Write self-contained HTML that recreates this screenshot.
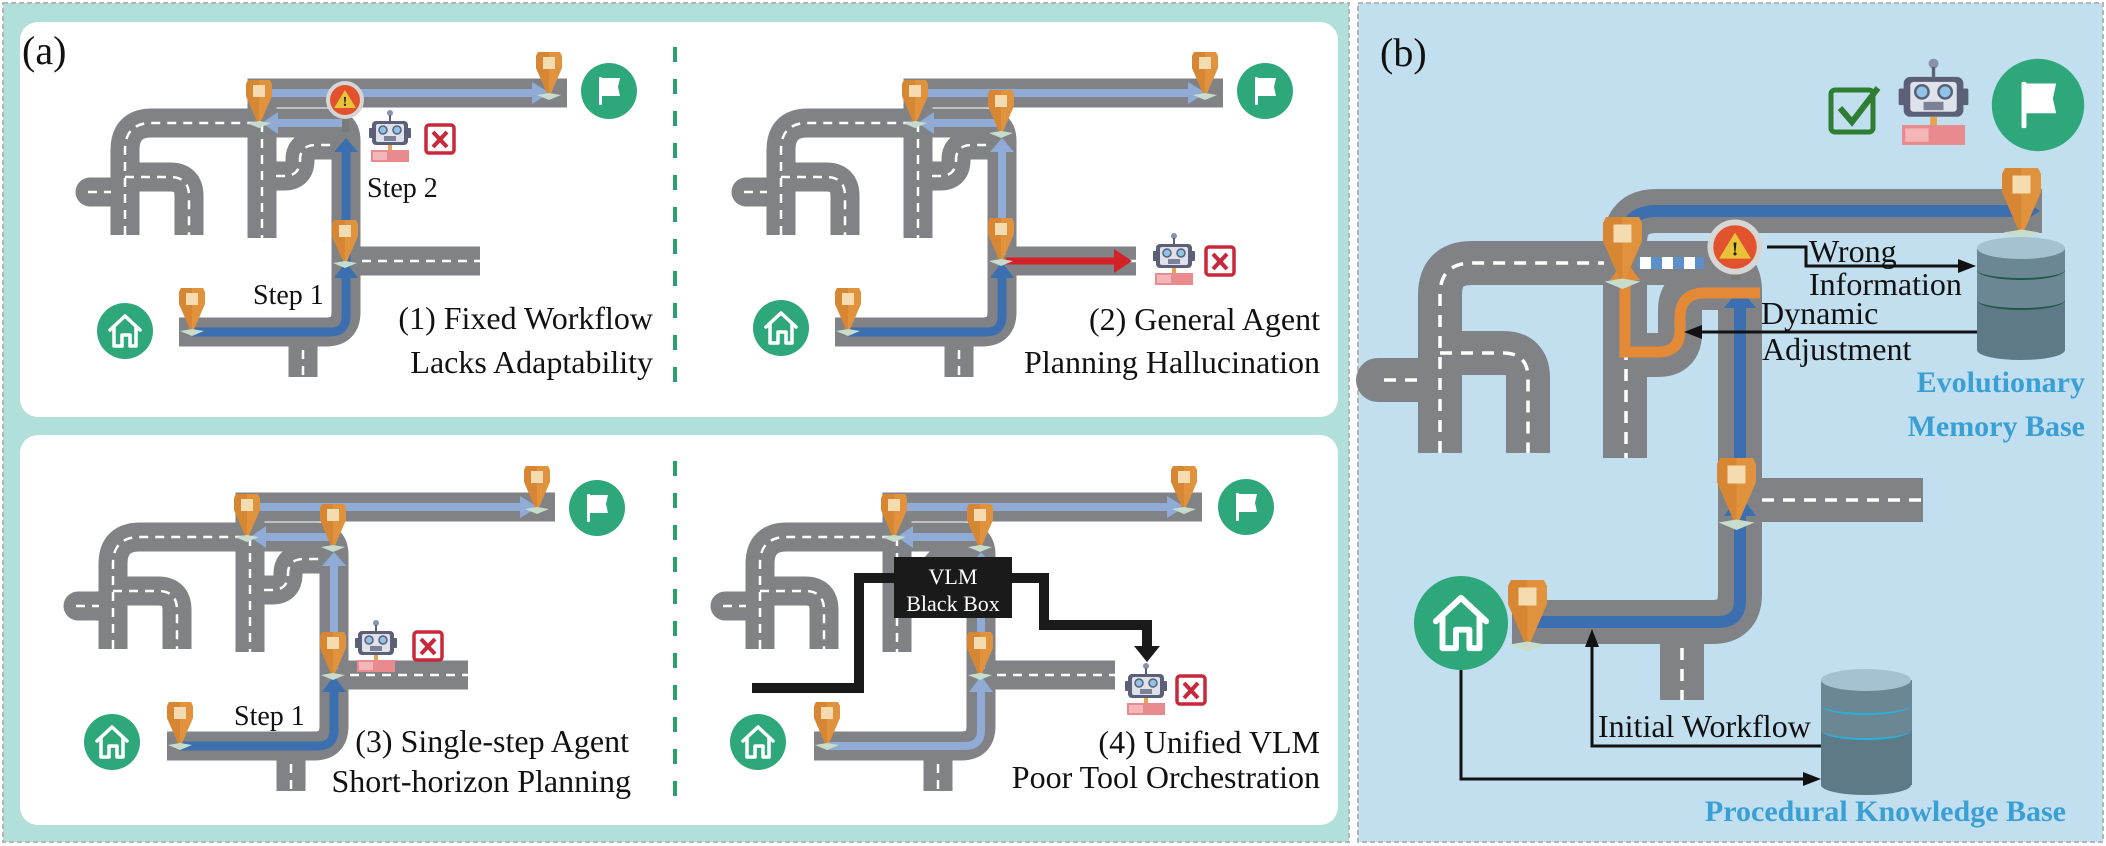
<!DOCTYPE html>
<html><head><meta charset="utf-8"><style>
html,body{margin:0;padding:0;background:#fff;}
svg{display:block;}
svg text{font-family:"Liberation Serif","DejaVu Serif","Times New Roman",Times,serif;}
</style></head><body>
<svg width="2106" height="846" viewBox="0 0 2106 846" xmlns="http://www.w3.org/2000/svg">
<defs>
  <g id="pin">
    <path d="M2 0 H24 L26 4 V16 L13 46 L0 16 V4 Z" fill="#e0933c"/>
    <path d="M13 0 V46 L0 16 V4 L2 0Z" fill="#cf7d2c" opacity=".55"/>
    <rect x="7" y="5" width="12" height="12" fill="#f5dcb0"/>
    <path d="M1 43 L13 41 L25 43 L13 48Z" fill="#c8dccb"/>
  </g>
  <g id="robot">
    <circle cx="22" cy="4" r="3" fill="#8a8fb0"/>
    <rect x="21" y="6" width="2" height="6" fill="#5b6078"/>
    <rect x="1" y="19" width="4" height="10" rx="1" fill="#5b6078"/>
    <rect x="39" y="19" width="4" height="10" rx="1" fill="#5b6078"/>
    <rect x="4" y="12" width="36" height="24" rx="4" fill="#5b6078"/>
    <rect x="8" y="15" width="28" height="18" rx="2" fill="#dfe2ea"/>
    <circle cx="15" cy="21" r="4" fill="#8fc3e8" stroke="#5b6078" stroke-width="1.5"/>
    <circle cx="29" cy="21" r="4" fill="#8fc3e8" stroke="#5b6078" stroke-width="1.5"/>
    <rect x="16" y="27" width="12" height="5" fill="#7c8296"/>
    <rect x="20" y="36" width="4" height="5" fill="#e6a34a"/>
    <rect x="3" y="41" width="38" height="12" fill="#e98a8f"/>
    <rect x="5" y="43" width="14" height="8" fill="#f3b7ba"/>
  </g>
  <g id="xbox">
    <rect x="2" y="2" width="28" height="28" rx="3" fill="#fff" stroke="#c8283a" stroke-width="3.5"/>
    <path d="M9 9 L23 24 M23 9 L9 24" stroke="#c8283a" stroke-width="4"/>
  </g>
  <g id="flag">
    <circle cx="0" cy="0" r="28" fill="#2ea87a"/>
    <rect x="-10" y="-14" width="3" height="28" fill="#fff" rx="1"/>
    <path d="M-7 -13 H11 L9 -4 L11 5 H-7Z" fill="#fff"/>
  </g>
  <g id="home">
    <circle cx="0" cy="0" r="28" fill="#2ea87a"/>
    <path d="M-15 -1 L0 -15 L15 -1 M-11 -4 V15 H-3 V4 H5 V15 H11 V-4" fill="none" stroke="#fff" stroke-width="3.5" stroke-linejoin="round" stroke-linecap="round"/>
  </g>
  <g id="warn">
    <circle cx="0" cy="0" r="19" fill="#d6d6d6"/>
    <circle cx="0" cy="0" r="15" fill="#e2522c"/>
    <path d="M0 -10 L11 8 H-11Z" fill="#e9c23a"/>
    <text x="0" y="6" font-size="14" font-weight="bold" text-anchor="middle" fill="#222">!</text>
  </g>
  <g id="net">
    <g fill="none" stroke="#808285" stroke-width="29">
      <path d="M262 238 V93 H567"/>
      <path d="M125 235 V150 Q125 123 152 123 H328 Q346 123 346 141 V312 Q346 332 326 332 H179"/>
      <path d="M125 177 H170 Q189 177 189 196 V235"/>
      <path d="M90 192 H125" stroke-linecap="round"/>
      <path d="M262 176 H284 Q300 176 300 160 Q300 145 316 145 H346"/>
      <path d="M346 261 H480"/>
      <path d="M303 332 V377"/>
    </g>
    <g fill="none" stroke="#fff" stroke-width="2.5" stroke-dasharray="9 7">
      <path d="M125 235 V150 Q125 123 152 123 H262"/>
      <path d="M262 123 V238"/>
      <path d="M125 177 H170 Q189 177 189 196 V235"/>
      <path d="M88 192 H111"/>
      <path d="M276 176 H284 Q300 176 300 160 Q300 145 316 145 H332"/>
      <path d="M362 261 H480"/>
      <path d="M303 350 V377"/>
    </g>
  </g>
</defs>

<rect x="3" y="3" width="1346" height="839" fill="#b1dfd9" stroke="#b5b5b5" stroke-width="2" stroke-dasharray="5 3"/>
<rect x="20" y="22" width="1318" height="395" rx="18" fill="#fff"/>
<rect x="20" y="435" width="1318" height="390" rx="18" fill="#fff"/>
<line x1="675" y1="47" x2="675" y2="397" stroke="#2aa06e" stroke-width="4" stroke-dasharray="15 17"/>
<line x1="675" y1="461" x2="675" y2="812" stroke="#2aa06e" stroke-width="4" stroke-dasharray="15 17"/>
<text x="22" y="64" font-size="40" fill="#111">(a)</text>

<rect x="1358" y="3" width="745" height="839" fill="#c1dfef" stroke="#b5b5b5" stroke-width="2" stroke-dasharray="5 3"/>

<g>
  <use href="#net"/>
  <g stroke="#8fabd6" stroke-width="8" fill="none">
    <path d="M268 93 H536"/>
    <path d="M346 123 H276"/>
  </g>
  <path d="M532 82 L550 93 L532 104Z" fill="#8fabd6"/>
  <path d="M262 123 L278 112 L278 134Z" fill="#8fabd6"/>
  <path d="M192 332 H330 Q346 332 346 316 V150" stroke="#3c6fb0" stroke-width="9" fill="none"/>
  <path d="M346 262 L334 278 H358Z" fill="#3c6fb0"/>
  <path d="M346 138 L334 152 H358Z" fill="#3c6fb0"/>
  <rect x="342" y="110" width="7" height="22" fill="#7a7a7a"/>
  <use href="#warn" x="345" y="100"/>
  <use href="#pin" x="246" y="80"/>
  <use href="#pin" x="536" y="52"/>
  <use href="#pin" x="332" y="220"/>
  <use href="#pin" x="179" y="288"/>
  <use href="#flag" x="609" y="91"/>
  <use href="#home" x="125" y="331"/>
  <use href="#robot" x="368" y="109"/>
  <use href="#xbox" x="424" y="123"/>
  <text x="367" y="197" font-size="28" fill="#111">Step 2</text>
  <text x="253" y="304" font-size="28" fill="#111">Step 1</text>
  <text x="653" y="329" font-size="32" text-anchor="end" fill="#111">(1) Fixed Workflow</text>
  <text x="653" y="373" font-size="32" text-anchor="end" fill="#111">Lacks Adaptability</text>
</g>

<g transform="translate(656,0)">
  <use href="#net"/>
  <g stroke="#8fabd6" stroke-width="8" fill="none">
    <path d="M268 93 H536"/>
    <path d="M346 123 H276"/>
    <path d="M346 255 V150"/>
  </g>
  <path d="M532 82 L550 93 L532 104Z" fill="#8fabd6"/>
  <path d="M262 123 L278 112 L278 134Z" fill="#8fabd6"/>
  <path d="M346 138 L334 152 H358Z" fill="#8fabd6"/>
  <path d="M192 332 H330 Q346 332 346 316 V276" stroke="#3c6fb0" stroke-width="9" fill="none"/>
  <path d="M346 262 L334 278 H358Z" fill="#3c6fb0"/>
  <path d="M350 261 H462" stroke="#d42027" stroke-width="7"/>
  <path d="M458 249 L476 261 L458 273Z" fill="#d42027"/>
  <use href="#pin" x="246" y="80"/>
  <use href="#pin" x="536" y="52"/>
  <use href="#pin" x="332" y="90"/>
  <use href="#pin" x="332" y="218"/>
  <use href="#pin" x="179" y="288"/>
  <use href="#flag" x="609" y="91"/>
  <use href="#home" x="125" y="328"/>
  <use href="#robot" x="496" y="232"/>
  <use href="#xbox" x="548" y="245"/>
  <text x="664" y="330" font-size="32" text-anchor="end" fill="#111">(2) General Agent</text>
  <text x="664" y="373" font-size="32" text-anchor="end" fill="#111">Planning Hallucination</text>
</g>

<g transform="translate(-12,414)">
  <use href="#net"/>
  <g stroke="#8fabd6" stroke-width="8" fill="none">
    <path d="M268 93 H536"/>
    <path d="M346 123 H276"/>
    <path d="M346 255 V150"/>
  </g>
  <path d="M532 82 L550 93 L532 104Z" fill="#8fabd6"/>
  <path d="M262 123 L278 112 L278 134Z" fill="#8fabd6"/>
  <path d="M346 138 L334 152 H358Z" fill="#8fabd6"/>
  <path d="M192 332 H330 Q346 332 346 316 V276" stroke="#3c6fb0" stroke-width="9" fill="none"/>
  <path d="M346 262 L334 278 H358Z" fill="#3c6fb0"/>
  <use href="#pin" x="246" y="80"/>
  <use href="#pin" x="536" y="52"/>
  <use href="#pin" x="332" y="90"/>
  <use href="#pin" x="332" y="218"/>
  <use href="#pin" x="179" y="288"/>
  <use href="#flag" x="609" y="94"/>
  <use href="#home" x="124" y="328"/>
  <use href="#robot" x="366" y="205"/>
  <use href="#xbox" x="424" y="216"/>
  <text x="246" y="311" font-size="28" fill="#111">Step 1</text>
  <text x="641" y="338" font-size="32" text-anchor="end" fill="#111">(3) Single-step Agent</text>
  <text x="643" y="378" font-size="32" text-anchor="end" fill="#111">Short-horizon Planning</text>
</g>

<g transform="translate(635,414)">
  <use href="#net"/>
  <g stroke="#8fabd6" stroke-width="8" fill="none">
    <path d="M268 93 H536"/>
    <path d="M346 123 H276"/>
    <path d="M346 255 V150"/>
    <path d="M192 332 H330 Q346 332 346 316 V276"/>
  </g>
  <path d="M532 82 L550 93 L532 104Z" fill="#8fabd6"/>
  <path d="M262 123 L278 112 L278 134Z" fill="#8fabd6"/>
  <path d="M346 138 L334 152 H358Z" fill="#8fabd6"/>
  <path d="M346 262 L334 278 H358Z" fill="#8fabd6"/>
  <use href="#pin" x="246" y="80"/>
  <use href="#pin" x="536" y="52"/>
  <use href="#pin" x="332" y="90"/>
  <use href="#pin" x="332" y="218"/>
  <use href="#pin" x="179" y="288"/>
  <use href="#flag" x="611" y="93"/>
  <use href="#home" x="123" y="328"/>
  <use href="#robot" x="489" y="248"/>
  <use href="#xbox" x="540" y="260"/>
  <text x="685" y="339" font-size="32" text-anchor="end" fill="#111">(4) Unified VLM</text>
  <text x="685" y="374" font-size="32" text-anchor="end" fill="#111">Poor Tool Orchestration</text>
</g>
<path d="M752 688 H859 V578 H900" fill="none" stroke="#1a1a1a" stroke-width="10"/>
<path d="M1008 578 H1044 V625 H1147 V648" fill="none" stroke="#1a1a1a" stroke-width="10"/>
<path d="M1134 646 L1160 646 L1147 662Z" fill="#1a1a1a"/>
<rect x="894" y="557" width="118" height="61" fill="#1a1a1a"/>
<text x="953" y="584" font-size="22" text-anchor="middle" fill="#fff">VLM</text>
<text x="953" y="611" font-size="22" text-anchor="middle" fill="#fff">Black Box</text>

<text x="1380" y="66" font-size="40" fill="#111">(b)</text>
<g fill="none" stroke="#808285" stroke-width="44">
  <path d="M1625 458 V243 Q1625 211 1657 211 H2042"/>
  <path d="M1440 453 V295 Q1440 263 1472 263 H1712 Q1740 263 1740 291 V594 Q1740 622 1712 622 H1512"/>
  <path d="M1440 353 H1503 Q1528 353 1528 378 V453"/>
  <path d="M1378 380 H1440" stroke-linecap="round"/>
  <path d="M1625 355 H1658 Q1680 355 1680 333 V310 Q1680 288 1702 288 H1740"/>
  <path d="M1740 500 H1923"/>
  <path d="M1682 622 V700"/>
</g>
<g fill="none" stroke="#fff" stroke-width="3.5" stroke-dasharray="12 9">
  <path d="M1440 453 V295 Q1440 263 1472 263 H1604"/>
  <path d="M1626 285 V458"/>
  <path d="M1440 353 H1503 Q1528 353 1528 378 V453"/>
  <path d="M1384 380 H1418"/>
  <path d="M1762 500 H1923"/>
  <path d="M1682 648 V700"/>
</g>
<rect x="1638" y="257" width="66" height="12" fill="#5d8fc9"/>
<g fill="#fff"><rect x="1640" y="257" width="11" height="12"/><rect x="1662" y="257" width="11" height="12"/><rect x="1684" y="257" width="11" height="12"/></g>
<path d="M1625 260 V240 Q1625 211 1657 211 H2022" fill="none" stroke="#3c6fb0" stroke-width="12"/>
<path d="M2018 197 L2040 211 L2018 225Z" fill="#3c6fb0"/>
<path d="M1528 622 H1718 Q1740 622 1740 600 V300" fill="none" stroke="#3c6fb0" stroke-width="12"/>
<path d="M1740 494 L1724 516 H1756Z" fill="#3c6fb0"/>
<path d="M1740 288 L1724 308 H1756Z" fill="#3c6fb0"/>
<path d="M1760 293 H1705 Q1680 293 1680 318 V330 Q1680 352 1658 352 H1625 V278" fill="none" stroke="#e48a36" stroke-width="11"/>
<path d="M1625 260 L1610 280 H1640Z" fill="#e48a36"/>
<rect x="1731" y="258" width="9" height="22" fill="#7a7a7a"/>
<g transform="translate(1735,247) scale(1.45)"><use href="#warn"/></g>
<g transform="translate(1603,217) scale(1.5)"><use href="#pin"/></g>
<g transform="translate(2002,168) scale(1.5)"><use href="#pin"/></g>
<g transform="translate(1717,458) scale(1.5)"><use href="#pin"/></g>
<g transform="translate(1508,580) scale(1.5)"><use href="#pin"/></g>
<g transform="translate(2038,105) scale(1.65)"><use href="#flag"/></g>
<g transform="translate(1461,623) scale(1.68)"><use href="#home"/></g>
<g transform="translate(1897,57) scale(1.66)"><use href="#robot"/></g>
<rect x="1831" y="90" width="42" height="42" rx="4" fill="none" stroke="#2e7d32" stroke-width="5"/>
<path d="M1840 108 L1852 122 L1878 88" fill="none" stroke="#2e7d32" stroke-width="6"/>

<g>
  <rect x="1977" y="300" width="88" height="50" fill="#5f7a87"/><ellipse cx="2021" cy="350" rx="44" ry="10" fill="#5f7a87"/>
  <ellipse cx="2021" cy="300" rx="44" ry="10" fill="#1f5a45"/>
  <rect x="1977" y="270" width="88" height="30" fill="#6b8794"/><ellipse cx="2021" cy="300" rx="44" ry="8" fill="#6b8794"/>
  <ellipse cx="2021" cy="270" rx="44" ry="10" fill="#1f5a45"/>
  <rect x="1977" y="248" width="88" height="22" fill="#6b8794"/><ellipse cx="2021" cy="270" rx="44" ry="8" fill="#6b8794"/>
  <ellipse cx="2021" cy="248" rx="44" ry="11" fill="#a5c2d1"/>
</g>
<g>
  <rect x="1821" y="730" width="91" height="55" fill="#5f7a87"/><ellipse cx="1866" cy="785" rx="45" ry="10" fill="#5f7a87"/>
  <ellipse cx="1866" cy="730" rx="45" ry="10" fill="#2bb0de"/>
  <rect x="1821" y="705" width="91" height="25" fill="#6b8794"/><ellipse cx="1866" cy="730" rx="45" ry="8" fill="#6b8794"/>
  <ellipse cx="1866" cy="705" rx="45" ry="10" fill="#2bb0de"/>
  <rect x="1821" y="680" width="91" height="25" fill="#6b8794"/><ellipse cx="1866" cy="705" rx="45" ry="8" fill="#6b8794"/>
  <ellipse cx="1866" cy="680" rx="45" ry="11" fill="#a5c2d1"/>
</g>

<path d="M1767 247 H1806 V266 H1960" fill="none" stroke="#111" stroke-width="3"/>
<path d="M1958 259 L1976 266 L1958 273Z" fill="#111"/>
<path d="M1977 332 H1700" fill="none" stroke="#111" stroke-width="3"/>
<path d="M1702 325 L1684 332 L1702 339Z" fill="#111"/>
<path d="M1821 746 H1592 V645" fill="none" stroke="#111" stroke-width="3"/>
<path d="M1585 647 L1592 629 L1599 647Z" fill="#111"/>
<path d="M1461 670 V779 H1805" fill="none" stroke="#111" stroke-width="3"/>
<path d="M1803 772 L1821 779 L1803 786Z" fill="#111"/>

<text x="1809" y="262" font-size="32" fill="#111">Wrong</text>
<text x="1809" y="295" font-size="32" fill="#111">Information</text>
<text x="1761" y="324" font-size="32" fill="#111">Dynamic</text>
<text x="1762" y="360" font-size="32" fill="#111">Adjustment</text>
<text x="1598" y="737" font-size="32" fill="#111">Initial Workflow</text>
<text x="2085" y="392" font-size="30" font-weight="bold" text-anchor="end" fill="#3a9fd5">Evolutionary</text>
<text x="2085" y="436" font-size="30" font-weight="bold" text-anchor="end" fill="#3a9fd5">Memory Base</text>
<text x="2066" y="821" font-size="30" font-weight="bold" text-anchor="end" fill="#3a9fd5">Procedural Knowledge Base</text>
</svg>
</body></html>
